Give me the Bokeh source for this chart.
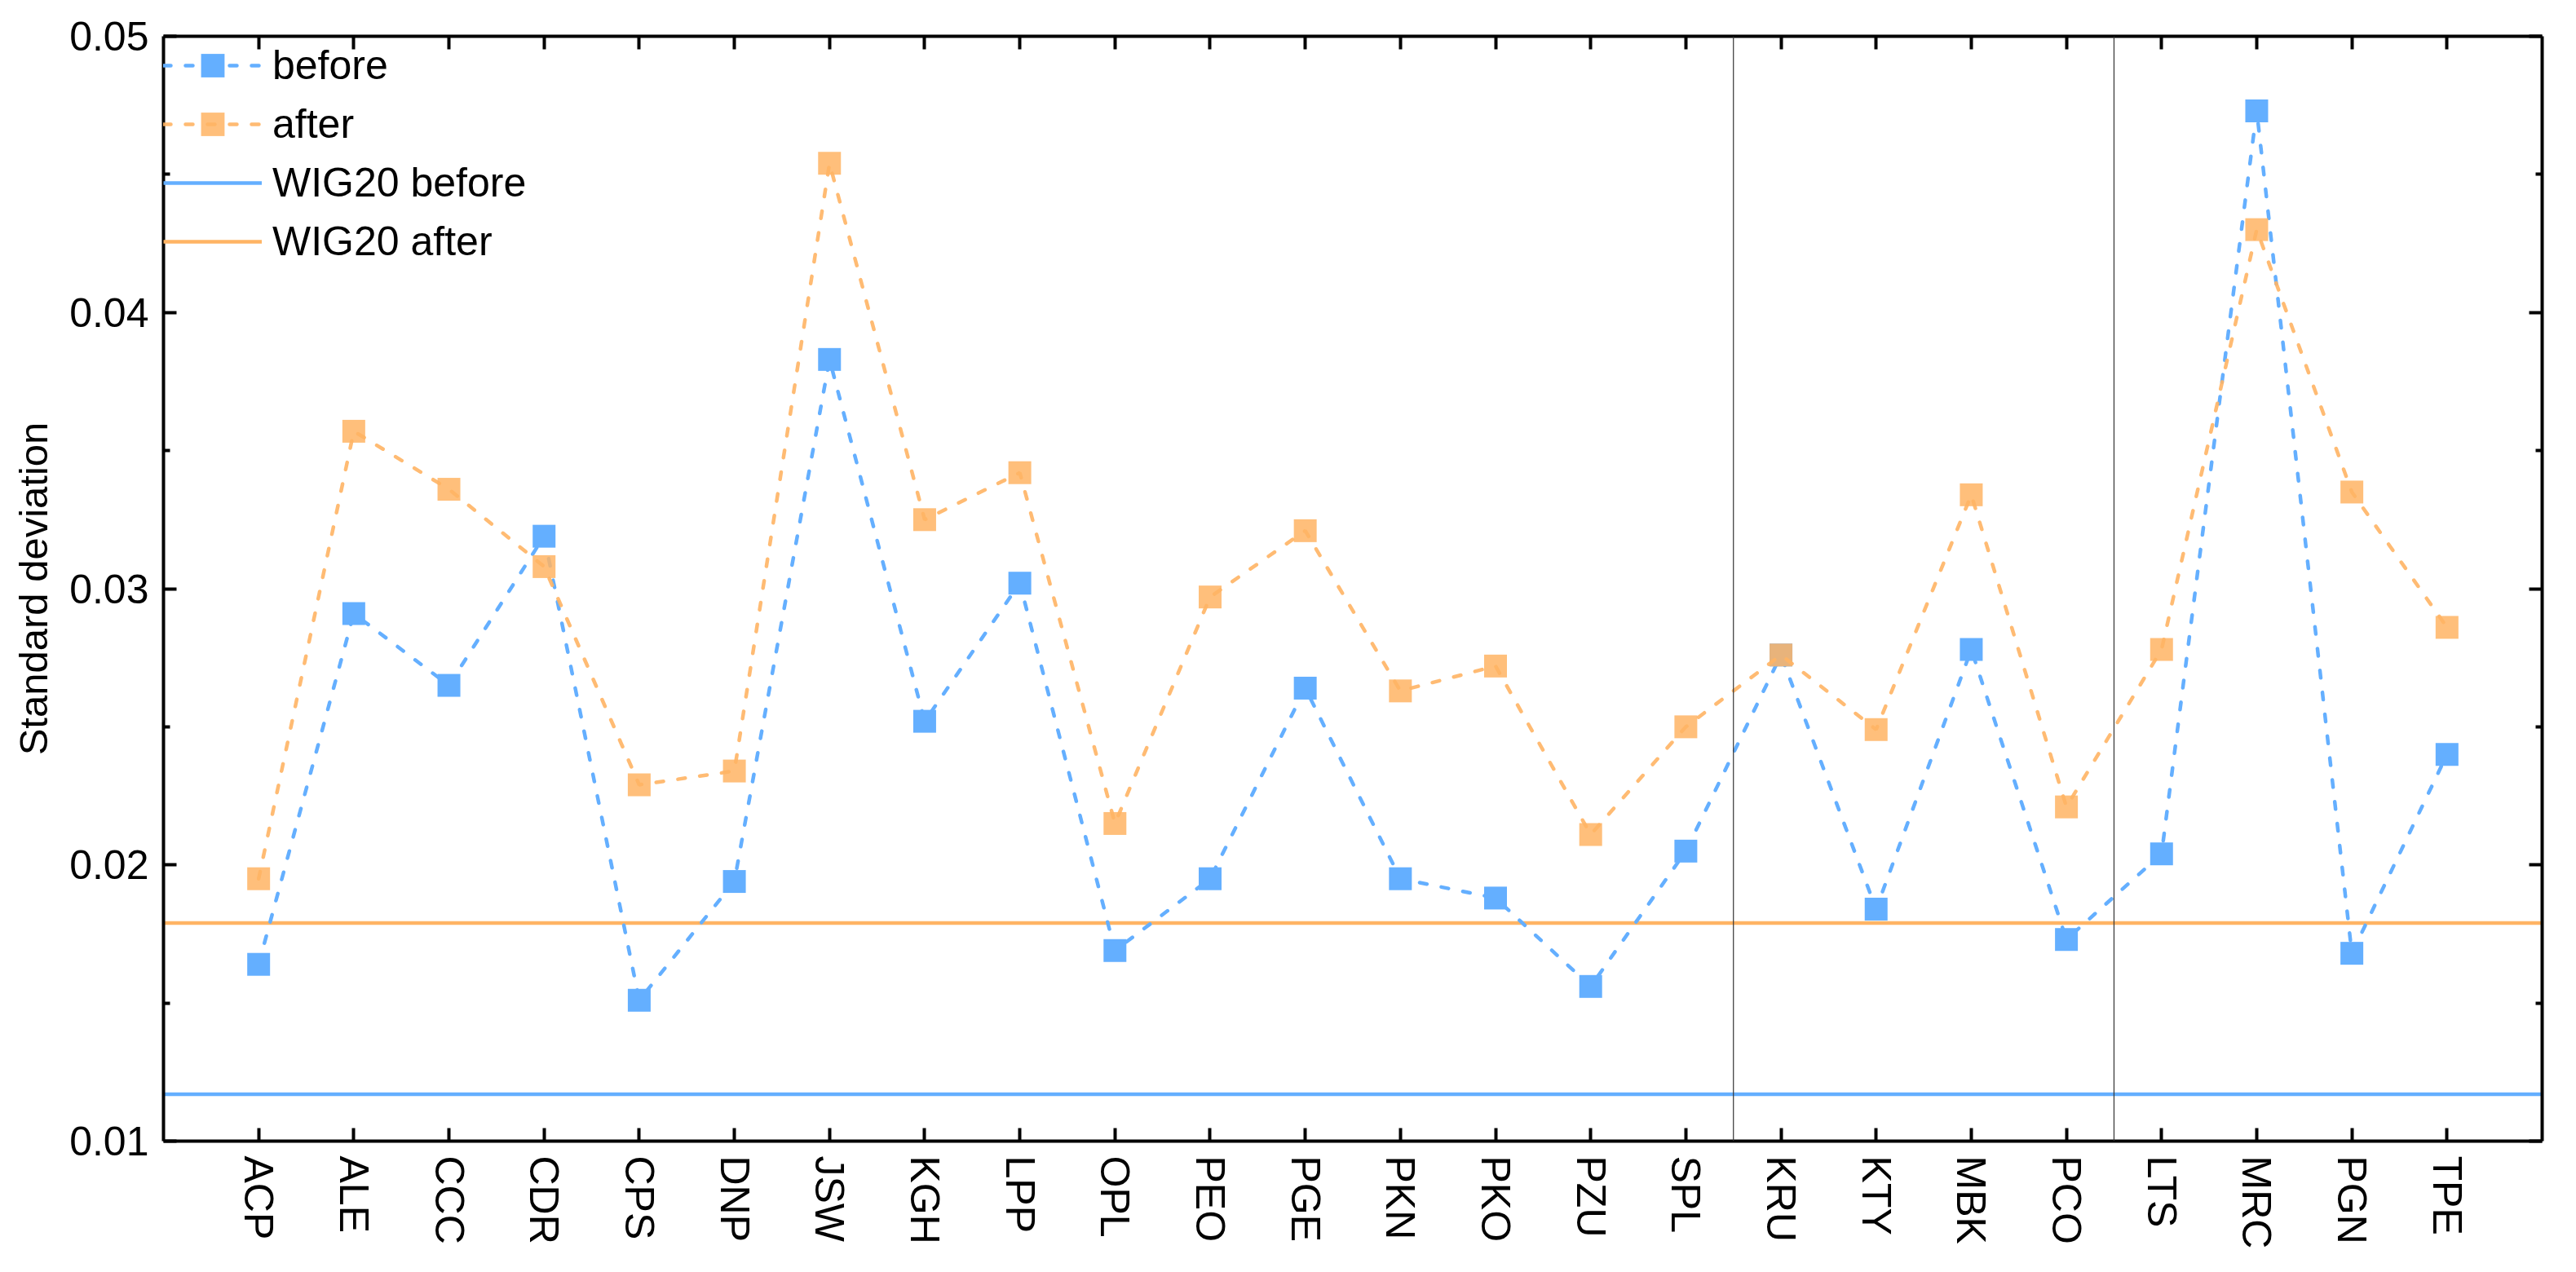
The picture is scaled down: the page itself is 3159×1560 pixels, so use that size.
from bokeh.plotting import figure
from bokeh.models import (Range1d, FixedTicker, LinearAxis, Span, Legend, LegendItem,
                          PrintfTickFormatter)
from bokeh.embed import file_html
from bokeh.resources import INLINE

categories = ["ACP", "ALE", "CCC", "CDR", "CPS", "DNP", "JSW", "KGH", "LPP", "OPL",
              "PEO", "PGE", "PKN", "PKO", "PZU", "SPL", "KRU", "KTY", "MBK", "PCO",
              "LTS", "MRC", "PGN", "TPE"]
before = [0.0164, 0.0291, 0.0265, 0.0319, 0.0151, 0.0194, 0.0383, 0.0252, 0.0302, 0.0169,
          0.0195, 0.0264, 0.0195, 0.0188, 0.0156, 0.0205, 0.0276, 0.0184, 0.0278, 0.0173,
          0.0204, 0.0473, 0.0168, 0.0240]
after = [0.0195, 0.0357, 0.0336, 0.0308, 0.0229, 0.0234, 0.0454, 0.0325, 0.0342, 0.0215,
         0.0297, 0.0321, 0.0263, 0.0272, 0.0211, 0.0250, 0.0276, 0.0249, 0.0334, 0.0221,
         0.0278, 0.0430, 0.0335, 0.0286]
wig20_before = 0.0117
wig20_after = 0.0179
group_ends = ["SPL", "PCO"]          # a separator follows these categories
y_ticks = [0.01, 0.02, 0.03, 0.04, 0.05]

BLUE = "#64AFFF"
ORANGE = "#FFB464"
FONT = "Liberation Sans"
FS = "50px"

xs = list(range(1, len(categories) + 1))
x0, x1 = 0, len(categories) + 1

p = figure(width=3140, height=1540, output_backend="svg", toolbar_location=None,
           x_range=Range1d(x0, x1), y_range=Range1d(y_ticks[0], y_ticks[-1]),
           min_border_left=200, min_border_right=23, min_border_top=44,
           min_border_bottom=141)
p.grid.visible = False
p.outline_line_color = None
p.background_fill_color = "white"
p.border_fill_color = "white"

xticker = FixedTicker(ticks=xs)
labels = {x: c for x, c in zip(xs, categories)}
yticker = FixedTicker(ticks=y_ticks,
                      minor_ticks=[y_ticks[i] + (y_ticks[1] - y_ticks[0]) / 2
                                   for i in range(len(y_ticks) - 1)])

def style_axis(ax):
    ax.axis_line_width = 4
    ax.axis_line_color = "black"
    ax.major_tick_in = 16
    ax.major_tick_out = 0
    ax.major_tick_line_width = 4
    ax.major_tick_line_color = "black"
    ax.minor_tick_in = 8
    ax.minor_tick_out = 0
    ax.minor_tick_line_width = 4
    ax.minor_tick_line_color = "black"
    ax.major_label_text_font = FONT
    ax.major_label_text_font_size = FS
    ax.major_label_text_color = "black"
    ax.major_label_standoff = 18

def hide_labels(ax):
    ax.major_label_text_color = None
    ax.major_label_text_alpha = 0
    ax.major_label_text_font_size = "1px"
    ax.major_label_standoff = 0

xa = p.xaxis[0]
xa.ticker = xticker
xa.major_label_overrides = labels
xa.major_label_orientation = "vertical"
style_axis(xa)
xa.minor_tick_line_color = None

ya = p.yaxis[0]
ya.ticker = yticker
ya.formatter = PrintfTickFormatter(format="%.2f")
style_axis(ya)
ya.axis_label = "Standard deviation"
ya.axis_label_text_font = FONT
ya.axis_label_text_font_size = "49px"
ya.axis_label_text_font_style = "normal"
ya.axis_label_text_color = "black"
ya.axis_label_standoff = 14

top = LinearAxis(ticker=xticker)
style_axis(top)
hide_labels(top)
top.minor_tick_line_color = None
p.add_layout(top, "above")

right = LinearAxis(ticker=yticker)
style_axis(right)
hide_labels(right)
p.add_layout(right, "right")

for c in group_ends:
    p.add_layout(Span(location=xs[categories.index(c)] + 0.5, dimension="height",
                      line_color="#333333", line_width=1.2))

wb = p.line([x0, x1], [wig20_before] * 2, line_color=BLUE, line_width=4.5)
wa = p.line([x0, x1], [wig20_after] * 2, line_color=ORANGE, line_width=4.5)

lb = p.line(xs, before, line_color=BLUE, line_width=4.5, line_dash="9 18",
            line_cap="round")
sb = p.scatter(xs, before, marker="square", size=28, fill_color=BLUE,
               line_color=None)
la = p.line(xs, after, line_color=ORANGE, line_width=4.5, line_dash="9 18",
            line_cap="round", line_alpha=0.9)
sa = p.scatter(xs, after, marker="square", size=28, fill_color=ORANGE,
               line_color=None, fill_alpha=0.85)

legend = Legend(items=[LegendItem(label="before", renderers=[lb, sb]),
                       LegendItem(label="after", renderers=[la, sa]),
                       LegendItem(label="WIG20 before", renderers=[wb]),
                       LegendItem(label="WIG20 after", renderers=[wa])],
                location="top_left", border_line_color=None, background_fill_alpha=0,
                margin=0, padding=28, spacing=-8, glyph_width=121, glyph_height=72,
                label_height=72, label_standoff=13, label_text_font=FONT,
                label_text_font_size=FS, label_text_color="black")
p.add_layout(legend)

open("out.html", "w").write(file_html(p, INLINE))
